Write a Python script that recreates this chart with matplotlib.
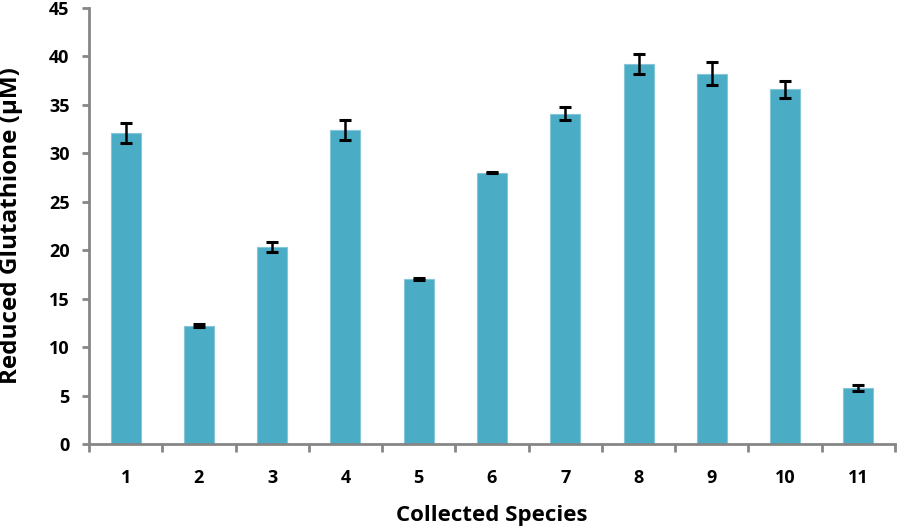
import matplotlib.pyplot as plt
import numpy as np

species = ['1', '2', '3', '4', '5', '6', '7', '8', '9', '10', '11']
gsh = [32.1, 12.2, 20.3, 32.4, 17.0, 28.0, 34.1, 39.2, 38.2, 36.6, 5.8]
err = [1.05, 0.15, 0.5, 1.0, 0.1, 0.05, 0.7, 1.0, 1.2, 0.9, 0.3]

plt.rcParams['font.family'] = ['Open Sans', 'DejaVu Sans']
plt.rcParams['font.weight'] = 'bold'

fig = plt.figure(figsize=(8.99, 5.28), dpi=100)
ax = fig.add_axes([0.099, 0.159, 0.8966, 0.826])

x = np.arange(1, len(species) + 1)
ax.bar(x, gsh, width=0.41, color='#4BACC6', edgecolor='#86C6D8', linewidth=0.8,
       yerr=err, capsize=4.3,
       error_kw=dict(ecolor='black', elinewidth=1.8, capthick=2.2))

ax.set_xlim(0.5, len(species) + 0.5)
ax.set_ylim(0, 45)
ax.set_yticks(np.arange(0, 46, 5))
ax.set_xticks(x)
ax.set_xticklabels(species)
ax.set_xticks(np.arange(0.5, len(species) + 1, 1), minor=True)
ax.tick_params(axis='x', which='major', length=0, pad=18, labelsize=13)
ax.tick_params(axis='x', which='minor', length=5.5, width=2, color='#868686', direction='out')
ax.tick_params(axis='y', length=5, width=2, color='#868686', labelsize=13, pad=9)
for lab in ax.get_xticklabels() + ax.get_yticklabels():
    lab.set_fontweight('bold')

for s in ['top', 'right']:
    ax.spines[s].set_visible(False)
for s in ['left', 'bottom']:
    ax.spines[s].set_color('#868686')
    ax.spines[s].set_linewidth(2)

ax.set_ylabel('Reduced Glutathione (μM)', fontsize=17.5, fontweight='bold')
ax.yaxis.set_label_coords(-0.082, 0.5)
ax.set_xlabel('Collected Species', fontsize=16, fontweight='bold', labelpad=13)

fig.savefig('out.png', dpi=100)
